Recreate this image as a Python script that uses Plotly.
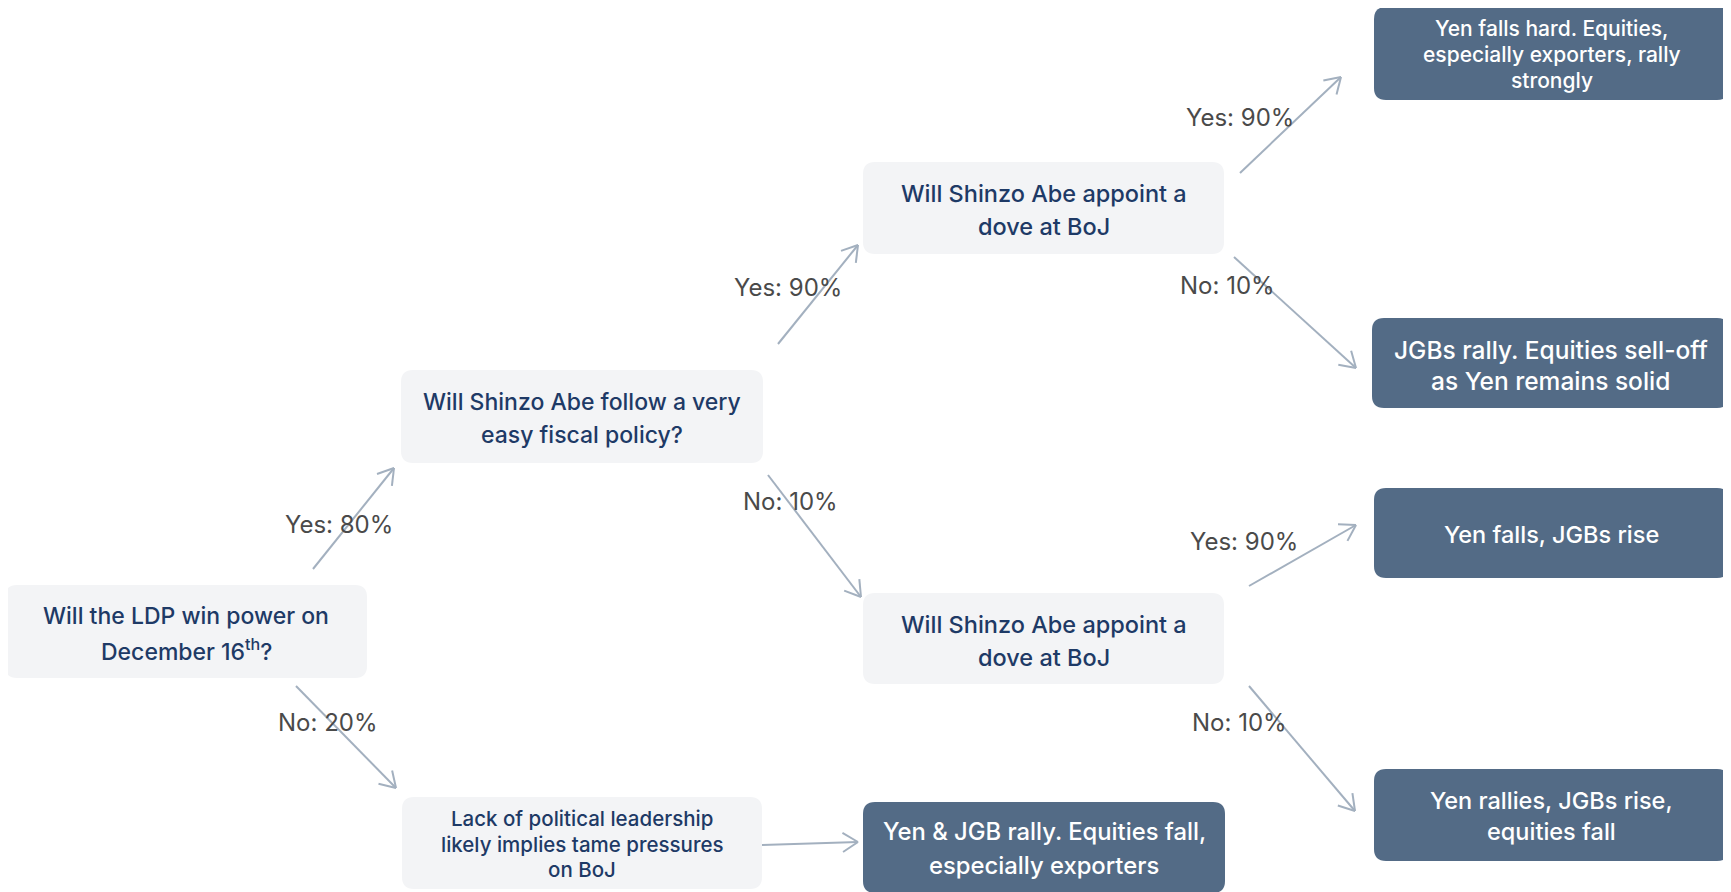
import math
import plotly.graph_objects as go

# ---------------- data ----------------
node_texts = [
    "Will the LDP win power on<br>December 16<sup>th</sup>?",
    "Will Shinzo Abe follow a very<br>easy fiscal policy?",
    "Will Shinzo Abe appoint a<br>dove at BoJ",
    "Will Shinzo Abe appoint a<br>dove at BoJ",
    "Lack of political leadership<br>likely implies tame pressures<br>on BoJ",
    "Yen & JGB rally. Equities fall,<br>especially exporters",
    "Yen falls hard. Equities,<br>especially exporters, rally<br>strongly",
    "JGBs rally. Equities sell-off<br>as Yen remains solid",
    "Yen falls, JGBs rise",
    "Yen rallies, JGBs rise,<br>equities fall",
]
node_kind = ["q", "q", "q", "q", "q", "o", "o", "o", "o", "o"]
edge_from = [0, 0, 1, 1, 4, 2, 2, 3, 3]
edge_to = [1, 4, 2, 3, 5, 6, 7, 8, 9]
edge_labels = ["Yes: 80%", "No: 20%", "Yes: 90%", "No: 10%", "",
               "Yes: 90%", "No: 10%", "Yes: 90%", "No: 10%"]

# ---------------- layout (pixel geometry) ----------------
W, H = 1731, 892
OFF = 8  # page margin offset compensation
boxes = [
    (5, 585, 367, 678),
    (401, 370, 763, 463),
    (863, 162, 1224, 254),
    (863, 593, 1224, 684),
    (402, 797, 762, 889),
    (863, 802, 1225, 893),
    (1374, 7, 1729, 100),
    (1372, 318, 1729, 408),
    (1374, 488, 1729, 578),
    (1374, 769, 1729, 861),
]
font_sizes = [23, 23, 23.5, 23.5, 20.5, 23.8, 21, 24.5, 23.5, 23.5]
line_gap = [34, 33, 33, 33, 25.5, 34, 26, 31, 31, 31]
text_dy = [1, 2, 2, 2, 1, 1, 1, 2, 1, 1]
arrow_pts = [
    ((313, 569), (394, 468)),
    ((296, 686), (396, 788)),
    ((778, 344), (858, 245)),
    ((768, 475), (861, 597)),
    ((762, 845), (858, 842)),
    ((1240, 173), (1341, 77)),
    ((1234, 257), (1356, 368)),
    ((1249, 586), (1356, 525)),
    ((1249, 686), (1355, 811)),
]
label_pos = [(339, 524), (327, 722), (788, 287), (790, 501), None,
             (1240, 117), (1227, 285), (1244, 541), (1239, 722)]

Q_FILL = "#f3f4f6"
O_FILL = "#536b86"
Q_TEXT = "#1e3a66"
O_TEXT = "#ffffff"
ARROW = "#a3b0bf"
LABEL = "#4a4a4a"
FONT = "Inter, 'Liberation Sans', Arial, sans-serif"


def rrect(x0, y0, x1, y1, r=12):
    return (f"M{x0+r},{y0} L{x1-r},{y0} Q{x1},{y0} {x1},{y0+r} "
            f"L{x1},{y1-r} Q{x1},{y1} {x1-r},{y1} L{x0+r},{y1} "
            f"Q{x0},{y1} {x0},{y1-r} L{x0},{y0+r} Q{x0},{y0} {x0+r},{y0} Z")


fig = go.Figure()
shapes = []
annotations = []

for i, (txt, kind) in enumerate(zip(node_texts, node_kind)):
    x0, y0, x1, y1 = boxes[i]
    fill = Q_FILL if kind == "q" else O_FILL
    shapes.append(dict(type="path", path=rrect(x0, y0, x1, y1), xref="x", yref="y",
                       fillcolor=fill, line=dict(width=0), layer="below"))
    lines = txt.split("<br>")
    n = len(lines)
    cy = (y0 + y1) / 2 + text_dy[i]
    for j, ln in enumerate(lines):
        ly = cy + (j - (n - 1) / 2) * line_gap[i]
        annotations.append(dict(x=(x0 + x1) / 2, y=ly, xref="x", yref="y",
                                text=ln, showarrow=False, align="center",
                                font=dict(family=FONT, size=font_sizes[i], weight=500,
                                          color=Q_TEXT if kind == "q" else O_TEXT)))

head_len = 18
head_ang = math.radians(32)
for k in range(len(edge_from)):
    (sx, sy), (ex, ey) = arrow_pts[k]
    shapes.append(dict(type="line", x0=sx, y0=sy, x1=ex, y1=ey, xref="x", yref="y",
                       line=dict(color=ARROW, width=2)))
    ang = math.atan2(ey - sy, ex - sx)
    for s in (1, -1):
        a = ang + math.pi + s * head_ang
        shapes.append(dict(type="line", x0=ex, y0=ey,
                           x1=ex + head_len * math.cos(a), y1=ey + head_len * math.sin(a),
                           xref="x", yref="y", line=dict(color=ARROW, width=2)))
    if edge_labels[k] and label_pos[k]:
        lx, ly = label_pos[k]
        annotations.append(dict(x=lx, y=ly, xref="x", yref="y", text=edge_labels[k],
                                showarrow=False,
                                font=dict(family=FONT, size=24, color=LABEL)))

fig.update_layout(
    width=W, height=H, margin=dict(l=0, r=0, t=0, b=0),
    paper_bgcolor="white", plot_bgcolor="white",
    xaxis=dict(range=[OFF, W + OFF], visible=False, fixedrange=True),
    yaxis=dict(range=[H + OFF, OFF], visible=False, fixedrange=True),
    shapes=shapes, annotations=annotations, showlegend=False,
)
fig.write_html("out.html")
